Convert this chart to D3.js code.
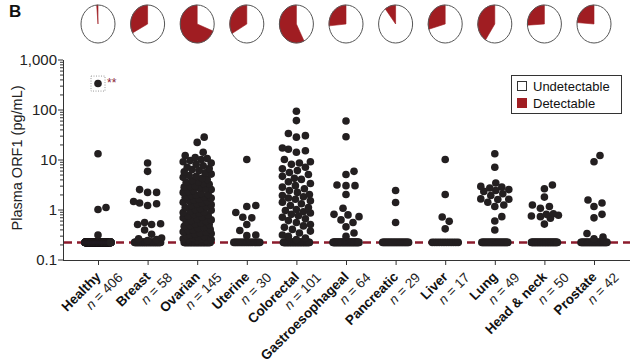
<!DOCTYPE html>
<html><head><meta charset="utf-8">
<script src="https://cdn.jsdelivr.net/npm/d3@7"></script>
<style>
body{margin:0;background:#fff;}
svg{display:block;font-family:"Liberation Sans",Arial,Helvetica,sans-serif;}
</style></head><body>
<svg id="chart" width="640" height="364"></svg>
<script>
const categories = ["Healthy","Breast","Ovarian","Uterine","Colorectal","Gastroesophageal","Pancreatic","Liver","Lung","Head & neck","Prostate"];
const sampleSizes = [406,58,145,30,101,64,29,17,49,50,42];
const healthyValues = [330, 13, 1.1, 1.0, 0.31];
const breastValues = [8.5, 5.8, 2.5, 2.2, 2.2, 1.45, 1.35, 1.3, 1.2, 0.55, 0.52, 0.5, 0.5, 0.39, 0.32, 0.27, 0.26, 0.25, 0.24];
const ovarianValues = [28, 22, 14, 12, 11, 10.5, 10, 9.5, 9, 8.5,
  8, 7.5, 7, 6.6, 6.3, 6, 5.7, 5.4, 5.1, 4.8,
  4.6, 4.4, 4.2, 4, 3.8, 3.6, 3.5, 3.3, 3.2, 3,
  2.9, 2.8, 2.7, 2.6, 2.5, 2.4, 2.3, 2.2, 2.1, 2,
  1.95, 1.9, 1.8, 1.75, 1.7, 1.6, 1.55, 1.5, 1.45, 1.4,
  1.35, 1.3, 1.25, 1.2, 1.15, 1.1, 1.05, 1, 0.97, 0.94,
  0.9, 0.87, 0.84, 0.8, 0.77, 0.74, 0.71, 0.68, 0.65, 0.62,
  0.6, 0.58, 0.56, 0.54, 0.52, 0.5, 0.48, 0.46, 0.44, 0.42,
  0.4, 0.39, 0.38, 0.36, 0.35, 0.34, 0.33, 0.32, 0.31, 0.3,
  0.29, 0.28, 0.28, 0.27, 0.26, 0.26, 0.25, 0.25, 0.24, 0.24];
const uterineValues = [10, 1.2, 1.15, 0.87, 0.7, 0.68, 0.5, 0.38, 0.31, 0.3];
const colorectalValues = [92, 60, 33, 30, 28, 17, 16, 15, 14, 10, 9, 8.5, 8, 7, 6.5, 6, 5.5, 5, 4.6, 4.2,
  4, 3.6, 3.3, 3, 2.8, 2.6, 2.4, 2.2, 2, 1.9, 1.8, 1.7, 1.6, 1.5, 1.4, 1.3, 1.2, 1.1, 1, 0.95,
  0.9, 0.85, 0.8, 0.75, 0.7, 0.65, 0.6, 0.55, 0.5, 0.47, 0.44, 0.4, 0.37, 0.34, 0.31, 0.29, 0.27, 0.25];
const gastroValues = [59, 28.5, 5.8, 5, 3.1, 3, 3, 2, 1.06, 0.8, 0.78, 0.72, 0.62, 0.55, 0.45, 0.34, 0.29];
const pancreaticValues = [2.4, 1.38, 0.55];
const liverValues = [10, 2, 0.71, 0.58, 0.41];
const lungValues = [13, 7, 3.4, 2.9, 2.8, 2.7, 2.5, 2.4, 2.3, 2.06, 1.9, 1.63, 1.6, 1.58, 1.4, 1.23, 1.15, 0.72, 0.59, 0.39];
const headNeckValues = [3.1, 2.6, 1.77, 1.23, 1.15, 1.06, 0.82, 0.8, 0.77, 0.74, 0.72, 0.67, 0.51];
const prostateValues = [12, 9, 1.55, 1.35, 1.15, 0.8, 0.68, 0.33, 0.28, 0.26];
const detectableValues = [healthyValues, breastValues, ovarianValues, uterineValues, colorectalValues, gastroValues, pancreaticValues, liverValues, lungValues, headNeckValues, prostateValues];
const detectionLimit = 0.22;
const yTickValues = [0.1, 1, 10, 100, 1000];
const yTickLabels = ["0.1", "1", "10", "100", "1,000"];
const legendLabels = ["Undetectable", "Detectable"];
const yTitle = "Plasma ORF1 (pg/mL)";
const outlierMark = "**";

const RED = "#a01d22", DASH = "#8c1b2c", DOT = "#231f20", AX = "#333";
const R = 3.8;
const svg = d3.select("#chart");

const x = d3.scalePoint().domain(categories).range([98, 594]);
const y = d3.scaleLog().domain([0.1, 1000]).range([259.5, 59.5]);

svg.append("text").attr("x", 9).attr("y", 17).attr("font-size", 17).attr("font-weight", "bold").attr("fill", "#111").text("B");

// y axis
const yAxis = svg.append("g").attr("transform", "translate(63,0)")
  .call(d3.axisLeft(y).tickValues(yTickValues).tickSize(5).tickSizeOuter(0).tickFormat((d, i) => yTickLabels[i]));
yAxis.select(".domain").attr("stroke", AX);
yAxis.selectAll(".tick line").attr("stroke", AX);
yAxis.selectAll(".tick text").attr("font-size", 15).attr("fill", "#222").attr("font-family", "Liberation Sans, Arial, sans-serif").attr("x", -6);
const minor = y.ticks().filter(v => !yTickValues.some(t => Math.abs(t - v) < 1e-9));
const yMinor = svg.append("g").attr("transform", "translate(63,0)")
  .call(d3.axisLeft(y).tickValues(minor).tickSize(3).tickFormat(""));
yMinor.select(".domain").remove();
yMinor.selectAll(".tick line").attr("stroke", AX);

svg.append("text").attr("transform", "translate(22,158) rotate(-90)").attr("text-anchor", "middle")
  .attr("font-size", 14.5).attr("fill", "#222").text(yTitle);

// x axis
const xAxis = svg.append("g").attr("transform", "translate(0,260)")
  .call(d3.axisBottom(x).tickSize(5).tickSizeOuter(0).tickFormat(""));
xAxis.select(".domain").attr("d", "M63,0.5H630").attr("stroke", AX);
xAxis.selectAll(".tick line").attr("stroke", AX);

const labels = svg.append("g").selectAll("g").data(categories).join("g")
  .attr("transform", d => `translate(${x(d)},260) rotate(-45)`);
labels.append("text").attr("x", -10).attr("y", 15).attr("text-anchor", "end")
  .attr("font-size", 13.5).attr("font-weight", "bold").attr("fill", "#111").text(d => d);
const nl = labels.append("text").attr("x", 5).attr("y", 31).attr("text-anchor", "end")
  .attr("font-size", 13.5).attr("fill", "#222");
nl.append("tspan").attr("font-style", "italic").text("n");
nl.append("tspan").text((d, i) => " = " + sampleSizes[i]);

// detection limit line
svg.append("line").attr("x1", 64).attr("x2", 630).attr("y1", y(detectionLimit)).attr("y2", y(detectionLimit))
  .attr("stroke", DASH).attr("stroke-width", 2.5).attr("stroke-dasharray", "8,5");

function swarm(values) {
  const placed = [];
  const minD = 2 * R + 0.6, maxOff = 14;
  values.slice().sort((a, b) => a - b).forEach(v => {
    const py = y(v);
    let chosen = null, fb = 0, fbScore = -1;
    for (let k = 0; k <= maxOff && chosen === null; k += 1) {
      const cands = k === 0 ? [0] : [k, -k];
      for (const s of cands) {
        let md = Infinity;
        for (const p of placed) { const d = Math.hypot(p.dx - s, p.y - py); if (d < md) md = d; }
        if (md >= minD) { chosen = s; break; }
        if (md > fbScore) { fbScore = md; fb = s; }
      }
    }
    placed.push({ v, y: py, dx: chosen === null ? fb : chosen });
  });
  return placed;
}

const dots = svg.append("g");
categories.forEach((c, i) => {
  const cx = x(c);
  const und = sampleSizes[i] - detectableValues[i].length;
  const base = d3.range(und).map(j => ({ dx: und > 1 ? -13 + 26 * j / (und - 1) : 0, y: y(detectionLimit) }));
  dots.append("g").selectAll("circle").data(base).join("circle")
    .attr("cx", d => cx + d.dx).attr("cy", d => d.y).attr("r", R).attr("fill", DOT);
  const pts = swarm(detectableValues[i]);
  dots.append("g").selectAll("circle").data(pts).join("circle")
    .attr("cx", d => cx + d.dx).attr("cy", d => d.y).attr("r", R).attr("fill", DOT);
  if (i === 0) {
    const top = pts.reduce((a, b) => (b.v > a.v ? b : a));
    svg.append("rect").attr("x", cx + top.dx - 7).attr("y", top.y - 7.5).attr("width", 14).attr("height", 15)
      .attr("fill", "none").attr("stroke", "#999").attr("stroke-width", 1).attr("stroke-dasharray", "1,1.5");
    svg.append("text").attr("x", cx + top.dx + 9).attr("y", top.y + 3).attr("font-size", 12)
      .attr("fill", "#8b2335").text(outlierMark);
  }
});

// pies
const pie = d3.pie().sort(null).value(d => d.v);
const arc = d3.arc().innerRadius(0).outerRadius(1);
categories.forEach((c, i) => {
  const det = detectableValues[i].length, und = sampleSizes[i] - det;
  const g = svg.append("g").attr("transform", `translate(${x(c)},24) scale(17,19)`);
  g.selectAll("path").data(pie([{ k: "u", v: und }, { k: "d", v: det }])).join("path")
    .attr("d", arc).attr("fill", d => d.data.k === "d" ? RED : "#fff")
    .attr("stroke", d => d.data.k === "d" ? RED : "none").attr("stroke-width", 0.6)
    .attr("vector-effect", "non-scaling-stroke");
  g.append("ellipse").attr("rx", 1).attr("ry", 1).attr("fill", "none").attr("stroke", "#555")
    .attr("stroke-width", 1).attr("vector-effect", "non-scaling-stroke");
});

// legend
const lg = svg.append("g");
lg.append("rect").attr("x", 511.5).attr("y", 75.5).attr("width", 110).attr("height", 38).attr("fill", "#fff").attr("stroke", AX);
legendLabels.forEach((l, i) => {
  lg.append("rect").attr("x", 517.5).attr("y", 81.5 + i * 17).attr("width", 9).attr("height", 9)
    .attr("fill", i === 0 ? "#fff" : RED).attr("stroke", i === 0 ? "#333" : RED);
  lg.append("text").attr("x", 533).attr("y", 90.5 + i * 17).attr("font-size", 13).attr("fill", "#111").text(l);
});
</script>
</body></html>
